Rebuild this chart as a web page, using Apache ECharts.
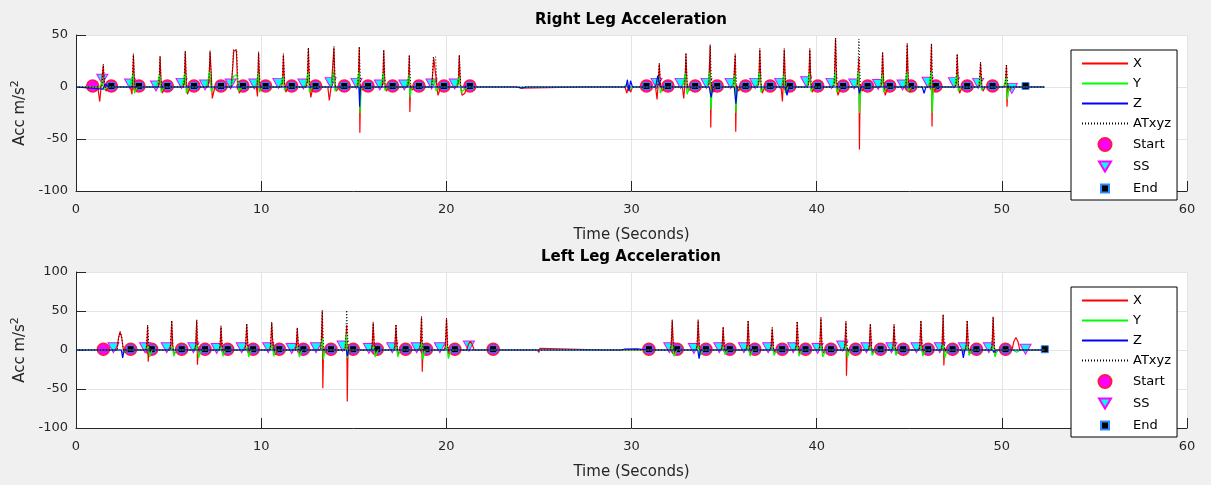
<!DOCTYPE html>
<html>
<head>
<meta charset="utf-8">
<script src="https://cdn.jsdelivr.net/npm/echarts@6/dist/echarts.min.js"></script>
<style>
  html, body { margin: 0; padding: 0; background: #f0f0f0; }
  #chart { width: 1211px; height: 485px; }
</style>
</head>
<body>
<div id="chart"></div>
<script>
const names = ['X', 'Y', 'Z', 'ATxyz', 'Start', 'SS', 'End']
const xTicks = [0, 10, 20, 30, 40, 50, 60]

// Right leg
const rightX = [
  [0,0],[1.18,0],[1.28,-14],[1.36,1],[1.47,21],[1.52,3],[1.62,-4],[1.8,0],
  [2.95,0],[3.02,-7],[3.06,3],[3.1,31],[3.15,4],[3.24,-4],[3.35,0],
  [4.42,0],[4.5,4],[4.54,29],[4.59,3],[4.66,-6],[4.8,0],
  [5.8,0],[5.86,5],[5.9,34],[5.95,4],[6.02,-7],[6.15,0],
  [7.12,0],[7.19,9],[7.24,34],[7.3,14],[7.36,-11],[7.5,0],
  [8.38,0],[8.47,20],[8.52,35],[8.66,35],[8.72,4],[8.82,-6],[8.95,0],
  [9.74,0],[9.8,-9],[9.83,4],[9.86,33],[9.91,4],[10.0,-3],[10.1,0],
  [11.1,0],[11.16,6],[11.2,31],[11.25,5],[11.33,-5],[11.45,0],
  [12.42,0],[12.5,6],[12.55,37],[12.6,4],[12.68,-10],[12.8,0],
  [13.6,0],[13.68,-13],[13.8,3],[13.93,38],[13.98,4],[14.06,-4],[14.2,0],
  [15.18,0],[15.25,6],[15.3,38],[15.33,-44],[15.37,2],[15.45,-3],[15.6,0],
  [16.52,0],[16.58,5],[16.62,35],[16.67,4],[16.75,-4],[16.9,0],
  [17.9,0],[17.96,4],[18.0,30],[18.03,-24],[18.07,2],[18.15,-3],[18.3,0],
  [19.2,0],[19.27,14],[19.32,28],[19.4,28],[19.46,6],[19.55,-8],[19.7,0],
  [20.6,0],[20.66,6],[20.7,30],[20.75,4],[20.85,-8],[21.0,-6],[21.1,0],
  [23.8,0],[23.9,1],[24.0,-1],[24.1,0],[27.5,0],[27.6,-1],[27.7,0],
  [29.65,0],[29.75,-6],[29.85,2],[29.95,-5],[30.05,0],
  [31.3,0],[31.38,-12],[31.45,5],[31.5,22],[31.55,4],[31.65,-4],[31.8,0],
  [32.75,0],[32.82,-11],[32.9,5],[32.94,32],[32.99,4],[33.08,-4],[33.2,0],
  [34.1,0],[34.18,6],[34.25,40],[34.28,-39],[34.32,3],[34.42,-5],[34.55,0],
  [35.45,0],[35.52,5],[35.6,31],[35.63,-43],[35.67,2],[35.78,-4],[35.9,0],
  [36.8,0],[36.88,5],[36.93,36],[36.98,4],[37.06,-6],[37.2,0],
  [38.08,0],[38.15,-14],[38.2,4],[38.25,36],[38.3,4],[38.4,-4],[38.5,0],
  [39.5,0],[39.58,5],[39.63,36],[39.68,4],[39.76,-5],[39.9,0],
  [40.88,0],[40.96,6],[41.02,47],[41.07,4],[41.15,-8],[41.3,0],
  [42.15,0],[42.22,6],[42.28,28],[42.31,-60],[42.35,2],[42.45,-4],[42.6,0],
  [43.45,0],[43.52,4],[43.56,33],[43.61,4],[43.7,-8],[43.85,0],
  [44.78,0],[44.84,6],[44.89,41],[44.94,4],[45.02,-5],[45.15,0],
  [46.08,0],[46.15,6],[46.2,41],[46.23,-38],[46.27,2],[46.36,-4],[46.5,0],
  [47.48,0],[47.55,4],[47.59,31],[47.64,4],[47.72,-6],[47.85,0],
  [48.75,0],[48.81,4],[48.85,23],[48.9,3],[48.98,-4],[49.1,0],
  [50.12,0],[50.2,4],[50.25,21],[50.28,-19],[50.33,2],[50.42,-3],[50.55,0],
  [52.3,0]
]
const rightY = [
  [0,0],[1.3,0],[1.42,6],[1.5,-3],[1.7,0],
  [2.9,0],[3.08,13],[3.16,-6],[3.3,0],
  [4.35,0],[4.52,12],[4.6,-5],[4.75,0],
  [5.72,0],[5.88,13],[5.96,-6],[6.1,0],
  [7.05,0],[7.22,15],[7.3,-4],[7.45,0],
  [8.35,0],[8.5,10],[8.7,12],[8.8,-4],[8.95,0],
  [9.7,0],[9.84,13],[9.92,-5],[10.05,0],
  [11.05,0],[11.18,10],[11.26,-3],[11.4,0],
  [12.38,0],[12.53,14],[12.61,-5],[12.75,0],
  [13.78,0],[13.91,15],[13.99,-4],[14.15,0],
  [15.15,0],[15.28,15],[15.34,-25],[15.4,-2],[15.55,0],
  [16.45,0],[16.6,13],[16.68,-3],[16.85,0],
  [17.85,0],[17.98,12],[18.04,-10],[18.1,-2],[18.25,0],
  [19.2,0],[19.33,8],[19.45,-4],[19.6,0],
  [20.55,0],[20.68,10],[20.8,-5],[21.0,-2],[21.15,0],
  [29.6,0],[29.75,3],[29.9,-3],[30.05,0],
  [31.3,0],[31.48,10],[31.56,-6],[31.7,0],
  [32.75,0],[32.92,13],[33.0,-7],[33.15,0],
  [34.1,0],[34.23,15],[34.29,-22],[34.36,-2],[34.5,0],
  [35.45,0],[35.58,12],[35.64,-25],[35.7,-2],[35.85,0],
  [36.78,0],[36.91,14],[36.99,-5],[37.15,0],
  [38.1,0],[38.23,12],[38.31,-6],[38.45,0],
  [39.48,0],[39.61,13],[39.69,-4],[39.85,0],
  [40.88,0],[41.0,14],[41.08,-5],[41.25,0],
  [42.12,0],[42.26,15],[42.32,-25],[42.38,-2],[42.55,0],
  [43.42,0],[43.54,12],[43.62,-5],[43.8,0],
  [44.75,0],[44.87,14],[44.95,-4],[45.1,0],
  [46.05,0],[46.18,15],[46.24,-25],[46.3,-2],[46.45,0],
  [47.45,0],[47.57,12],[47.65,-4],[47.8,0],
  [48.72,0],[48.83,10],[48.91,-3],[49.05,0],
  [50.1,0],[50.23,9],[50.3,-12],[50.38,-2],[50.5,0],
  [52.3,0]
]
const rightZ = [
  [0,0],[1.45,-2],[1.6,3],[1.75,0],
  [15.28,0],[15.32,-19],[15.36,0],
  [23.8,0],[23.9,1.5],[24.1,-1],[24.3,0],[25.4,0],[25.5,0.8],[25.7,0],
  [29.7,0],[29.78,7],[29.86,-4],[29.95,6],[30.05,0],
  [31.3,0],[31.42,11],[31.55,0],
  [34.2,0],[34.3,-10],[34.4,0],
  [35.55,0],[35.64,-16],[35.72,0],
  [38.3,0],[38.4,-8],[38.5,0],
  [42.25,0],[42.31,-6],[42.4,0],
  [45.7,0],[45.8,-6],[45.9,0],
  [52.3,0]
]
const rightAT = [
  [0,0],[1.4,0],[1.48,22],[1.56,0],
  [3.02,0],[3.1,32],[3.18,0],
  [4.46,0],[4.54,30],[4.62,0],
  [5.82,0],[5.9,35],[5.98,0],
  [7.16,0],[7.24,35],[7.32,0],
  [8.4,0],[8.5,36],[8.68,36],[8.76,0],
  [9.78,0],[9.86,34],[9.94,0],
  [11.12,0],[11.2,32],[11.28,0],
  [12.47,0],[12.55,38],[12.63,0],
  [13.85,0],[13.93,39],[14.01,0],
  [15.22,0],[15.3,39],[15.38,0],
  [16.54,0],[16.62,36],[16.7,0],
  [17.92,0],[18.0,31],[18.08,0],
  [19.22,0],[19.3,29],[19.42,29],[19.5,0],
  [20.62,0],[20.7,31],[20.78,0],
  [31.42,0],[31.5,23],[31.58,0],
  [32.86,0],[32.94,33],[33.02,0],
  [34.17,0],[34.25,41],[34.33,0],
  [35.52,0],[35.6,32],[35.68,0],
  [36.85,0],[36.93,37],[37.01,0],
  [38.17,0],[38.25,37],[38.33,0],
  [39.55,0],[39.63,37],[39.71,0],
  [40.94,0],[41.02,47],[41.1,0],
  [42.2,0],[42.28,46],[42.36,0],
  [43.48,0],[43.56,34],[43.64,0],
  [44.81,0],[44.89,42],[44.97,0],
  [46.12,0],[46.2,42],[46.28,0],
  [47.51,0],[47.59,32],[47.67,0],
  [48.77,0],[48.85,24],[48.93,0],
  [50.17,0],[50.25,22],[50.33,0],
  [52.3,0]
]
const rightStart = [
  [0.9,1],[1.91,1],[3.4,1],[4.93,1],[6.37,1],[7.83,1],[9.02,1],[10.24,1],
  [11.65,1],[12.94,1],[14.49,1],[15.77,1],[17.1,1],[18.52,1],[19.87,1],[21.27,1],
  [30.81,1],[31.97,1],[33.44,1],[34.63,1],[36.16,1],[37.49,1],[38.55,1],[40.06,1],
  [41.43,1],[42.75,1],[43.95,1],[45.09,1],[46.44,1],[48.13,1],[49.5,1]
]
const rightSS = [
  [1.42,7.4],[2.92,2.9],[4.32,1],[5.7,3.5],[6.97,1.9],[8.35,2.9],[9.63,2.9],[10.93,3.5],
  [12.28,2.9],[13.75,4.2],[15.15,3.5],[16.41,1.9],[17.73,1.9],[19.2,2.9],[20.45,2.9],
  [31.35,3.5],[32.65,3.5],[34.05,3.5],[35.35,3.5],[36.68,3.5],[38.03,3.5],[39.43,5],
  [40.8,3.5],[42.03,2.9],[43.32,2.5],[44.64,1.9],[45.99,4.5],[47.41,4.2],[48.72,3.5],
  [50.54,-1.3]
]
const rightEnd = [
  [1.91,1],[3.4,1],[4.93,1],[6.37,1],[7.83,1],[9.02,1],[10.24,1],[11.65,1],
  [12.94,1],[14.49,1],[15.77,1],[17.1,1],[18.52,1],[19.87,1],[21.27,1],[30.81,1],
  [31.97,1],[33.44,1],[34.63,1],[36.16,1],[37.49,1],[38.55,1],[40.06,1],[41.43,1],
  [42.75,1],[43.95,1],[45.09,1],[46.44,1],[48.13,1],[49.5,1],[51.28,1]
]

// Left leg
const leftX = [
  [0,0],[2.2,0],[2.3,16],[2.38,23],[2.46,17],[2.56,0],[2.65,-3],[2.8,0],
  [3.75,0],[3.82,4],[3.87,31],[3.9,-15],[3.95,3],[4.05,0],
  [5.05,0],[5.12,6],[5.17,37],[5.22,5],[5.3,-5],[5.45,0],
  [6.4,0],[6.47,6],[6.52,38],[6.56,-19],[6.6,2],[6.75,0],
  [7.72,0],[7.79,5],[7.83,30],[7.88,5],[7.96,-5],[8.1,0],
  [9.1,0],[9.17,6],[9.22,33],[9.28,5],[9.36,-4],[9.5,0],
  [10.45,0],[10.52,6],[10.57,35],[10.62,12],[10.7,10],[10.76,-6],[10.9,0],
  [11.84,0],[11.9,5],[11.95,28],[12.0,4],[12.08,-5],[12.2,0],
  [13.18,0],[13.25,8],[13.3,50],[13.33,-49],[13.37,3],[13.45,-3],[13.6,0],
  [14.5,0],[14.57,6],[14.62,32],[14.65,-66],[14.69,3],[14.78,-3],[14.9,0],
  [15.93,0],[16.0,6],[16.05,35],[16.1,5],[16.18,-5],[16.35,0],
  [17.16,0],[17.23,6],[17.28,32],[17.33,5],[17.41,-5],[17.55,0],
  [18.54,0],[18.61,8],[18.66,42],[18.7,-28],[18.74,3],[18.83,-3],[18.95,0],
  [19.89,0],[19.96,6],[20.01,40],[20.06,5],[20.14,-6],[20.3,0],
  [21.1,0],[21.2,8],[21.3,11],[21.4,7],[21.5,0],
  [24.9,0],[25.0,-3],[25.05,2],[25.15,0],
  [28.6,0],[28.68,-2],[28.76,0],
  [32.08,0],[32.15,6],[32.2,38],[32.25,5],[32.33,-5],[32.45,0],
  [33.48,0],[33.55,6],[33.6,38],[33.65,5],[33.73,-6],[33.85,0],
  [34.83,0],[34.9,5],[34.95,29],[35.0,4],[35.08,-4],[35.2,0],
  [36.18,0],[36.25,6],[36.3,37],[36.35,5],[36.43,-5],[36.55,0],
  [37.48,0],[37.55,5],[37.6,28],[37.65,4],[37.73,-3],[37.85,0],
  [38.83,0],[38.9,6],[38.95,36],[39.0,5],[39.08,-5],[39.2,0],
  [40.11,0],[40.18,6],[40.23,41],[40.28,5],[40.36,-4],[40.5,0],
  [41.46,0],[41.53,6],[41.58,36],[41.61,-33],[41.65,3],[41.74,-3],[41.85,0],
  [42.78,0],[42.85,5],[42.9,33],[42.95,4],[43.03,-4],[43.15,0],
  [44.06,0],[44.13,5],[44.18,32],[44.23,4],[44.31,-5],[44.45,0],
  [45.51,0],[45.58,6],[45.63,37],[45.68,5],[45.76,-4],[45.9,0],
  [46.71,0],[46.78,7],[46.83,45],[46.87,-20],[46.91,3],[47.0,-3],[47.1,0],
  [48.01,0],[48.08,6],[48.13,37],[48.18,5],[48.26,-5],[48.4,0],
  [49.41,0],[49.48,6],[49.53,42],[49.58,5],[49.66,-4],[49.8,0],
  [50.55,0],[50.65,11],[50.76,16],[50.87,11],[50.97,0],
  [52.3,0]
]
const leftY = [
  [0,0],[2.45,0],[2.55,-5],[2.7,0],
  [3.8,0],[3.9,5],[3.98,-9],[4.1,0],
  [5.1,0],[5.2,5],[5.28,-8],[5.4,0],
  [6.45,0],[6.54,6],[6.62,-10],[6.75,0],
  [7.76,0],[7.86,4],[7.94,-8],[8.05,0],
  [9.15,0],[9.25,4],[9.33,-9],[9.45,0],
  [10.5,0],[10.6,6],[10.68,-8],[10.8,0],
  [11.88,0],[11.98,4],[12.06,-9],[12.2,0],
  [13.22,0],[13.32,15],[13.36,-12],[13.45,0],
  [14.5,0],[14.6,20],[14.66,-10],[14.75,0],
  [15.98,0],[16.08,5],[16.16,-9],[16.3,0],
  [17.2,0],[17.3,4],[17.38,-9],[17.5,0],
  [18.58,0],[18.68,10],[18.73,-12],[18.85,0],
  [19.93,0],[20.03,5],[20.11,-11],[20.25,0],
  [32.12,0],[32.22,5],[32.3,-8],[32.45,0],
  [33.52,0],[33.62,5],[33.7,-7],[33.85,0],
  [34.87,0],[34.97,4],[35.05,-6],[35.2,0],
  [36.22,0],[36.32,5],[36.4,-8],[36.55,0],
  [37.52,0],[37.62,4],[37.7,-7],[37.85,0],
  [38.87,0],[38.97,5],[39.05,-8],[39.2,0],
  [40.15,0],[40.25,5],[40.33,-9],[40.5,0],
  [41.5,0],[41.6,6],[41.66,-10],[41.8,0],
  [42.82,0],[42.92,4],[43.0,-7],[43.15,0],
  [44.1,0],[44.2,4],[44.28,-7],[44.4,0],
  [45.55,0],[45.65,5],[45.73,-8],[45.85,0],
  [46.75,0],[46.85,6],[46.92,-10],[47.05,0],
  [48.05,0],[48.15,5],[48.23,-7],[48.35,0],
  [49.45,0],[49.55,5],[49.63,-9],[49.75,0],
  [50.6,0],[50.8,-3],[51.0,0],
  [52.3,0]
]
const leftZ = [
  [0,0],[2.45,0],[2.52,-10],[2.6,0],
  [14.6,0],[14.66,-8],[14.72,0],
  [23.9,0],[24.0,0.5],[24.2,0],[29.4,0],[29.6,1],[30.3,1.5],[30.9,0],
  [33.58,0],[33.65,-11],[33.72,0],
  [47.85,0],[47.92,-10],[48.0,0],
  [49.5,0],[49.57,-3],[49.65,0],
  [52.3,0]
]
const leftAT = [
  [0,0],[2.22,0],[2.32,17],[2.38,24],[2.46,18],[2.56,0],
  [3.79,0],[3.87,32],[3.95,0],
  [5.09,0],[5.17,38],[5.25,0],
  [6.44,0],[6.52,39],[6.6,0],
  [7.75,0],[7.83,31],[7.91,0],
  [9.14,0],[9.22,34],[9.3,0],
  [10.49,0],[10.57,36],[10.65,0],
  [11.87,0],[11.95,29],[12.03,0],
  [13.22,0],[13.3,51],[13.38,0],
  [14.54,0],[14.62,51],[14.7,0],
  [15.97,0],[16.05,36],[16.13,0],
  [17.2,0],[17.28,33],[17.36,0],
  [18.58,0],[18.66,43],[18.74,0],
  [19.93,0],[20.01,41],[20.09,0],
  [32.12,0],[32.2,39],[32.28,0],
  [33.52,0],[33.6,39],[33.68,0],
  [34.87,0],[34.95,30],[35.03,0],
  [36.22,0],[36.3,38],[36.38,0],
  [37.52,0],[37.6,29],[37.68,0],
  [38.87,0],[38.95,37],[39.03,0],
  [40.15,0],[40.23,42],[40.31,0],
  [41.5,0],[41.58,37],[41.66,0],
  [42.82,0],[42.9,34],[42.98,0],
  [44.1,0],[44.18,33],[44.26,0],
  [45.55,0],[45.63,38],[45.71,0],
  [46.75,0],[46.83,46],[46.91,0],
  [48.05,0],[48.13,38],[48.21,0],
  [49.45,0],[49.53,43],[49.61,0],
  [52.3,0]
]
const leftStart = [
  [1.48,1],[2.95,1],[4.09,1],[5.71,1],[6.97,1],[8.19,1],[9.57,1],[10.98,1],
  [12.28,1],[13.77,1],[14.97,1],[16.27,1],[17.8,1],[18.93,1],[20.46,1],[22.53,1],
  [30.94,1],[32.47,1],[34.02,1],[35.31,1],[36.66,1],[38.14,1],[39.4,1],[40.77,1],
  [42.1,1],[43.45,1],[44.67,1],[46.02,1],[47.34,1],[48.63,1],[50.2,1]
]
const leftSS = [
  [2.02,3],[3.73,3],[4.9,3],[6.34,3],[7.6,2],[8.95,3],[10.38,3],[11.65,2],
  [12.96,3],[14.4,5],[15.82,2],[17.08,3],[18.4,3],[19.65,3],[21.22,5],
  [32.04,3],[33.37,2],[34.74,3],[36.07,3],[37.38,3],[38.73,3],[40.05,2],[41.38,5],
  [42.69,3],[44.04,3],[45.39,3],[46.65,3],[47.95,3],[49.3,3],[51.28,1]
]
const leftEnd = [
  [2.95,1],[4.09,1],[5.71,1],[6.97,1],[8.19,1],[9.57,1],[10.98,1],[12.28,1],
  [13.77,1],[14.97,1],[16.27,1],[17.8,1],[18.93,1],[20.46,1],[22.53,1],[30.94,1],
  [32.47,1],[34.02,1],[35.31,1],[36.66,1],[38.14,1],[39.4,1],[40.77,1],[42.1,1],
  [43.45,1],[44.67,1],[46.02,1],[47.34,1],[48.63,1],[50.2,1],[52.32,1]
]

const font = 'DejaVu Sans'
const ink = '#262626'

function xAxisFor(gridIndex) {
  return {
    type: 'value', gridIndex, min: 0, max: 60, interval: 10,
    name: 'Time (Seconds)', nameLocation: 'middle', nameGap: 37,
    nameTextStyle: { fontFamily: font, fontSize: 15, color: ink },
    axisLine: { show: true, onZero: false, lineStyle: { color: ink, width: 1 } },
    axisTick: { show: true, inside: true, length: 10, lineStyle: { color: ink } },
    axisLabel: { fontFamily: font, fontSize: 13, color: ink, margin: 12 },
    splitLine: { show: true, lineStyle: { color: '#e4e4e4', width: 1 } },
  }
}

function yAxisFor(gridIndex, min, max) {
  return {
    type: 'value', gridIndex, min, max, interval: 50,
    name: 'Acc m/s{s|2}', nameLocation: 'middle', nameGap: 37,
    nameTextStyle: {
      fontFamily: font, fontSize: 15, color: ink,
      rich: { s: { fontFamily: font, fontSize: 11, color: ink, padding: [0, 0, 10, 0] } },
    },
    axisLine: { show: true, onZero: false, lineStyle: { color: ink, width: 1 } },
    axisTick: { show: true, inside: true, length: 10, lineStyle: { color: ink } },
    axisLabel: { fontFamily: font, fontSize: 13, color: ink, margin: 8 },
    splitLine: { show: true, lineStyle: { color: '#e4e4e4', width: 1 } },
  }
}

function lineSeries(name, data, idx, color, width, type) {
  return {
    name, type: 'line', data, xAxisIndex: idx, yAxisIndex: idx,
    symbol: 'none', showSymbol: false, silent: true,
    lineStyle: { color, width, type: type || 'solid' },
    itemStyle: { color },
  }
}

function legendFor(top) {
  return {
    orient: 'vertical', left: 1071, top,
    padding: [7, 6, 4, 10], itemWidth: 46, itemHeight: 13, itemGap: 7,
    backgroundColor: '#fff', borderColor: '#000', borderWidth: 1, borderRadius: 0,
    selectedMode: false, symbolRotate: 0,
    textStyle: { fontFamily: font, fontSize: 13, color: '#000' },
    data: [
      { name: 'X', itemStyle: { opacity: 0 } },
      { name: 'Y', itemStyle: { opacity: 0 } },
      { name: 'Z', itemStyle: { opacity: 0 } },
      { name: 'ATxyz', itemStyle: { opacity: 0 } },
      { name: 'Start' },
      { name: 'SS', icon: 'path://M0,0M13,13M0.5,1.5H12.5L6.5,11.5Z' },
      { name: 'End', icon: 'path://M0,0M13,13M2.5,2.5H10.5V10.5H2.5Z' },
    ],
  }
}

function seriesFor(idx, sx, sy, sz, sa, st, ss, se) {
  return [
    lineSeries('X', sx, idx, '#ff0000', 1.2),
    lineSeries('Y', sy, idx, '#00ff00', 1.2),
    lineSeries('Z', sz, idx, '#0000ff', 1.2),
    lineSeries('ATxyz', sa, idx, '#000000', 1, [1, 2]),
    {
      name: 'Start', type: 'scatter', data: st, xAxisIndex: idx, yAxisIndex: idx,
      symbol: 'circle', symbolSize: 12, silent: true,
      itemStyle: { color: '#ff00ff', borderColor: '#ff1a3c', borderWidth: 1.5, opacity: 1 },
    },
    {
      name: 'SS', type: 'scatter', data: ss, xAxisIndex: idx, yAxisIndex: idx,
      symbol: 'path://M0,0H12L6,10Z', symbolSize: [11, 10], silent: true,
      itemStyle: { color: '#00ffff', borderColor: '#ff00ff', borderWidth: 1, opacity: 1 },
    },
    {
      name: 'End', type: 'scatter', data: se, xAxisIndex: idx, yAxisIndex: idx,
      symbol: 'rect', symbolSize: 7, silent: true,
      itemStyle: { color: '#000000', borderColor: '#2e8bff', borderWidth: 1, opacity: 1 },
    },
  ]
}

const chart = echarts.init(document.getElementById('chart'))
chart.setOption({
  animation: false,
  backgroundColor: '#f0f0f0',
  grid: [
    { left: 76, right: 24, top: 35, height: 156, show: true, backgroundColor: '#fff', borderWidth: 0, outerBoundsMode: 'none' },
    { left: 76, right: 24, top: 272, height: 156, show: true, backgroundColor: '#fff', borderWidth: 0, outerBoundsMode: 'none' },
  ],
  xAxis: [xAxisFor(0), xAxisFor(1)],
  yAxis: [yAxisFor(0, -100, 50), yAxisFor(1, -100, 100)],
  legend: [legendFor(50), legendFor(287)],
  graphic: [
    { type: 'text', x: 631, y: 20, silent: true,
      style: { text: 'Right Leg Acceleration', font: 'bold 15px "DejaVu Sans"', fill: '#000',
        textAlign: 'center', textVerticalAlign: 'middle', align: 'center', verticalAlign: 'middle' } },
    { type: 'text', x: 631, y: 257, silent: true,
      style: { text: 'Left Leg Acceleration', font: 'bold 15px "DejaVu Sans"', fill: '#000',
        textAlign: 'center', textVerticalAlign: 'middle', align: 'center', verticalAlign: 'middle' } },
  ],
  series: [
    ...seriesFor(0, rightX, rightY, rightZ, rightAT, rightStart, rightSS, rightEnd),
    ...seriesFor(1, leftX, leftY, leftZ, leftAT, leftStart, leftSS, leftEnd),
  ],
})
</script>
</body>
</html>
